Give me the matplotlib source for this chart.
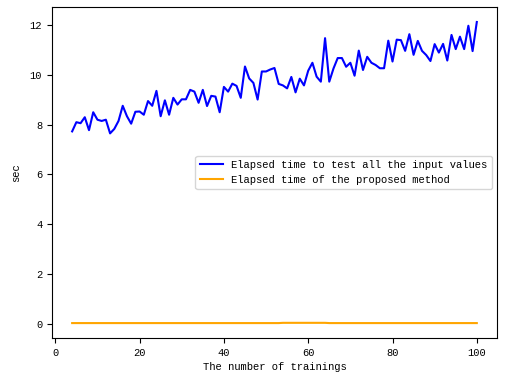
import matplotlib
matplotlib.use("Agg")
import matplotlib.pyplot as plt

plt.rcParams['font.family'] = ['Liberation Mono', 'DejaVu Sans Mono']

trainings = list(range(4, 101))

test_all = [7.73, 8.10, 8.06, 8.30, 7.78, 8.50, 8.20, 8.15, 8.20, 7.65,
            7.83, 8.15, 8.76, 8.34, 8.04, 8.52, 8.53, 8.40, 8.95, 8.76,
            9.36, 8.34, 8.98, 8.40, 9.08, 8.81, 9.02, 9.02, 9.40, 9.33,
            8.88, 9.40, 8.75, 9.16, 9.13, 8.50, 9.52, 9.33, 9.65, 9.56,
            9.08, 10.34, 9.86, 9.68, 9.01, 10.14, 10.14, 10.22, 10.28, 9.64,
            9.58, 9.46, 9.92, 9.30, 9.85, 9.58, 10.17, 10.49, 9.93, 9.73,
            11.48, 9.73, 10.26, 10.68, 10.68, 10.33, 10.49, 9.97, 10.98, 10.20,
            10.73, 10.49, 10.40, 10.27, 10.27, 11.38, 10.54, 11.42, 11.40, 10.97,
            11.64, 10.81, 11.37, 10.97, 10.80, 10.56, 11.24, 10.90, 11.25, 10.58,
            11.61, 11.04, 11.54, 11.04, 11.98, 10.96, 12.13]

proposed = [0.02, 0.02, 0.02, 0.02, 0.02, 0.02, 0.02, 0.02, 0.02, 0.02,
            0.02, 0.02, 0.02, 0.02, 0.02, 0.02, 0.02, 0.02, 0.02, 0.02,
            0.02, 0.02, 0.02, 0.02, 0.02, 0.02, 0.02, 0.02, 0.02, 0.02,
            0.02, 0.02, 0.02, 0.02, 0.02, 0.02, 0.02, 0.02, 0.02, 0.02,
            0.02, 0.02, 0.02, 0.02, 0.02, 0.02, 0.02, 0.02, 0.02, 0.02,
            0.03, 0.03, 0.03, 0.03, 0.03, 0.03, 0.03, 0.03, 0.03, 0.03,
            0.03, 0.02, 0.02, 0.02, 0.02, 0.02, 0.02, 0.02, 0.02, 0.02,
            0.02, 0.02, 0.02, 0.02, 0.02, 0.02, 0.02, 0.02, 0.02, 0.02,
            0.02, 0.02, 0.02, 0.02, 0.02, 0.02, 0.02, 0.02, 0.02, 0.02,
            0.02, 0.02, 0.02, 0.02, 0.02, 0.02, 0.02]

fig = plt.figure(figsize=(5.14, 3.86), dpi=100)
ax = fig.add_axes([0.101, 0.124, 0.866, 0.858])

ax.plot(trainings, test_all, color='blue', lw=1.5,
        label='Elapsed time to test all the input values')
ax.plot(trainings, proposed, color='orange', lw=1.5,
        label='Elapsed time of the proposed method')

ax.set_xticks([0, 20, 40, 60, 80, 100])
ax.set_yticks([0, 2, 4, 6, 8, 10, 12])
ax.tick_params(labelsize=7.5)
ax.set_xlabel('The number of trainings', fontsize=7.6, labelpad=3)
ax.set_ylabel('sec', fontsize=7.6, labelpad=6)
ax.legend(loc='center right', fontsize=7.6, handlelength=2.2)

fig.savefig('out.png', dpi=100)
